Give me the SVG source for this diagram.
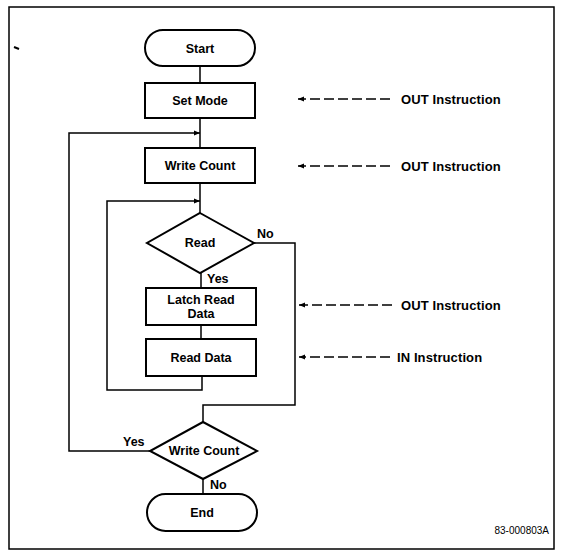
<svg xmlns="http://www.w3.org/2000/svg" width="561" height="554" viewBox="0 0 561 554">
<defs>
<style>
.box{fill:#fff;stroke:#000;stroke-width:2}
.ln{fill:none;stroke:#000;stroke-width:1.5}
.dash{fill:none;stroke:#000;stroke-width:1.3;stroke-dasharray:10 4}
.t{font-family:"Liberation Sans",Arial,sans-serif;font-weight:bold;font-size:12.5px;fill:#000;text-anchor:middle}
.lab{font-family:"Liberation Sans",Arial,sans-serif;font-weight:bold;font-size:12.5px;fill:#000}
.ann{font-family:"Liberation Sans",Arial,sans-serif;font-weight:bold;font-size:13px;letter-spacing:0.1px;fill:#000}
</style>
<marker id="ah" viewBox="0 0 10 10" refX="10" refY="5" markerWidth="8" markerHeight="6" markerUnits="userSpaceOnUse" orient="auto">
<path d="M0,1 L10,5 L0,9 Z" fill="#000"/>
</marker>
</defs>
<rect x="9" y="7" width="545" height="542" fill="none" stroke="#000" stroke-width="1.5"/>
<path d="M14,47 L19,49" stroke="#000" stroke-width="2"/>
<g id="connectors">
<line class="ln" x1="200" y1="66" x2="200" y2="83"/>
<line class="ln" x1="200" y1="118" x2="200" y2="148"/>
<line class="ln" x1="200" y1="183" x2="200" y2="213"/>
<line class="ln" x1="201" y1="273" x2="201" y2="288"/>
<line class="ln" x1="201" y1="325" x2="201" y2="339"/>
<polyline class="ln" points="202,376 202,390 107,390 107,201 200,201" marker-end="url(#ah)"/>
<polyline class="ln" points="254,243 295,243 295,405 203,405 203,422"/>
<polyline class="ln" points="150,451 69,451 69,133 200,133" marker-end="url(#ah)"/>
<line class="ln" x1="203" y1="479" x2="203" y2="494"/>
<line class="dash" x1="390" y1="99" x2="298" y2="99" marker-end="url(#ah)"/>
<line class="dash" x1="390" y1="166" x2="298" y2="166" marker-end="url(#ah)"/>
<line class="dash" x1="392" y1="305" x2="299" y2="305" marker-end="url(#ah)"/>
<line class="dash" x1="390" y1="357" x2="299" y2="357" marker-end="url(#ah)"/>
</g>
<g id="start"><rect class="box" x="145" y="30" width="110" height="36" rx="18"/><text class="t" x="200" y="52.5">Start</text></g>
<g id="setmode"><rect class="box" x="145" y="83" width="110" height="35"/><text class="t" x="200" y="105">Set Mode</text></g>
<g id="writecount"><rect class="box" x="145" y="148" width="110" height="35"/><text class="t" x="200" y="170">Write Count</text></g>
<g id="read"><polygon class="box" points="200,213 254,243 200,273 147,243"/><text class="t" x="200" y="247">Read</text></g>
<g id="latch"><rect class="box" x="146" y="288" width="110" height="37"/><text class="t" x="201" y="304">Latch Read</text><text class="t" x="201" y="318">Data</text></g>
<g id="readdata"><rect class="box" x="146" y="339" width="110" height="37"/><text class="t" x="201" y="362">Read Data</text></g>
<g id="writecount2"><polygon class="box" points="203,422 257,451 203,479 150,451"/><text class="t" x="204" y="455">Write Count</text></g>
<g id="end"><rect class="box" x="147" y="494" width="110" height="37" rx="18.5"/><text class="t" x="202" y="517">End</text></g>
<g id="labels">
<text class="lab" x="257" y="238">No</text>
<text class="lab" x="207" y="283">Yes</text>
<text class="lab" x="123" y="446">Yes</text>
<text class="lab" x="210" y="489">No</text>
</g>
<g id="annotations">
<text class="ann" x="401" y="103.5">OUT Instruction</text>
<text class="ann" x="401" y="170.5">OUT Instruction</text>
<text class="ann" x="401" y="309.5">OUT Instruction</text>
<text class="ann" x="397" y="361.5">IN Instruction</text>
<text x="549" y="534" font-family="Liberation Sans, Arial, sans-serif" font-size="10" text-anchor="end">83-000803A</text>
</g>
</svg>
